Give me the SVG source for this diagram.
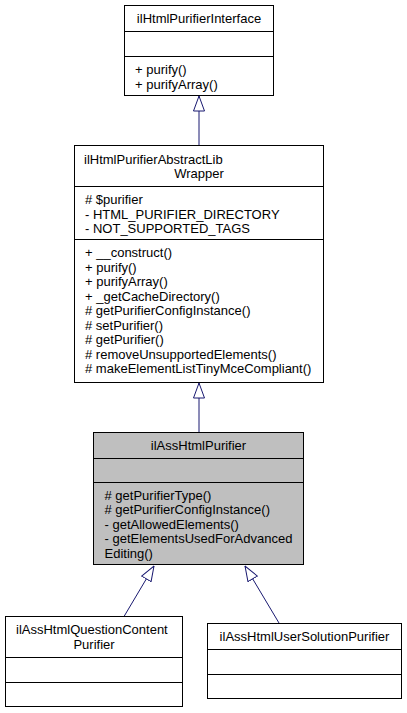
<svg xmlns="http://www.w3.org/2000/svg" width="407" height="713" viewBox="0 0 407 713">
<style>
.box{fill:#ffffff;stroke:#000000;stroke-width:1}
.cur{fill:#bfbfbf;stroke:#000000;stroke-width:1}
.div{stroke:#000000;stroke-width:1}
text{font-family:"Liberation Sans",Arial,Helvetica,sans-serif;font-size:13px;fill:#000000}
.c{text-anchor:middle}
.edge{fill:none;stroke:#191970;stroke-width:1}
</style>
<defs>
<marker id="inh" markerUnits="userSpaceOnUse" markerWidth="16" markerHeight="12" viewBox="-0.5 -0.5 16 12" refX="15" refY="5.5" orient="auto">
<path d="M0,0 L15,5.5 L0,11 Z" fill="#ffffff" stroke="#191970" stroke-width="1"/>
</marker>
</defs>
<g id="connectors">
<path class="edge" d="M199,145 L199,96" marker-end="url(#inh)"/>
<path class="edge" d="M199,432 L199,383" marker-end="url(#inh)"/>
<path class="edge" d="M124,616.5 L154,566" marker-end="url(#inh)"/>
<path class="edge" d="M279,623 L245,566" marker-end="url(#inh)"/>
</g>
<g id="ilHtmlPurifierInterface">
<rect class="box" x="124.5" y="5.5" width="149" height="90"/>
<line class="div" x1="124.5" y1="31.5" x2="273.5" y2="31.5"/>
<line class="div" x1="124.5" y1="56.5" x2="273.5" y2="56.5"/>
<text class="c" x="199" y="23">ilHtmlPurifierInterface</text>
<text x="135" y="74">+ purify()</text>
<text x="135" y="88.5">+ purifyArray()</text>
</g>
<g id="ilHtmlPurifierAbstractLibWrapper">
<rect class="box" x="74.5" y="145.5" width="249" height="237"/>
<line class="div" x1="74.5" y1="186.5" x2="323.5" y2="186.5"/>
<line class="div" x1="74.5" y1="239.5" x2="323.5" y2="239.5"/>
<text x="84" y="163.5">ilHtmlPurifierAbstractLib</text>
<text class="c" x="199" y="178">Wrapper</text>
<text x="85" y="204"># $purifier</text>
<text x="85" y="218.5">- HTML_PURIFIER_DIRECTORY</text>
<text x="85" y="233">- NOT_SUPPORTED_TAGS</text>
<text x="85" y="257">+ __construct()</text>
<text x="85" y="271.5">+ purify()</text>
<text x="85" y="286">+ purifyArray()</text>
<text x="85" y="300.5">+ _getCacheDirectory()</text>
<text x="85" y="315"># getPurifierConfigInstance()</text>
<text x="85" y="329.5"># setPurifier()</text>
<text x="85" y="344"># getPurifier()</text>
<text x="85" y="358.5"># removeUnsupportedElements()</text>
<text x="85" y="373"># makeElementListTinyMceCompliant()</text>
</g>
<g id="ilAssHtmlPurifier">
<rect class="cur" x="93.5" y="432.5" width="210" height="132"/>
<line class="div" x1="93.5" y1="458.5" x2="303.5" y2="458.5"/>
<line class="div" x1="93.5" y1="482.5" x2="303.5" y2="482.5"/>
<text class="c" x="198.5" y="449.5">ilAssHtmlPurifier</text>
<text x="104.5" y="499.5"># getPurifierType()</text>
<text x="104.5" y="514"># getPurifierConfigInstance()</text>
<text x="104.5" y="528.5">- getAllowedElements()</text>
<text x="104.5" y="543">- getElementsUsedForAdvanced</text>
<text x="104.5" y="557.5">Editing()</text>
</g>
<g id="ilAssHtmlQuestionContentPurifier">
<rect class="box" x="5.5" y="616.5" width="177" height="90"/>
<line class="div" x1="5.5" y1="657.5" x2="182.5" y2="657.5"/>
<line class="div" x1="5.5" y1="682.5" x2="182.5" y2="682.5"/>
<text x="16" y="634">ilAssHtmlQuestionContent</text>
<text class="c" x="94" y="648.5">Purifier</text>
</g>
<g id="ilAssHtmlUserSolutionPurifier">
<rect class="box" x="207.5" y="623.5" width="194" height="75"/>
<line class="div" x1="207.5" y1="649.5" x2="401.5" y2="649.5"/>
<line class="div" x1="207.5" y1="674.5" x2="401.5" y2="674.5"/>
<text class="c" x="304.5" y="640.5">ilAssHtmlUserSolutionPurifier</text>
</g>
</svg>
